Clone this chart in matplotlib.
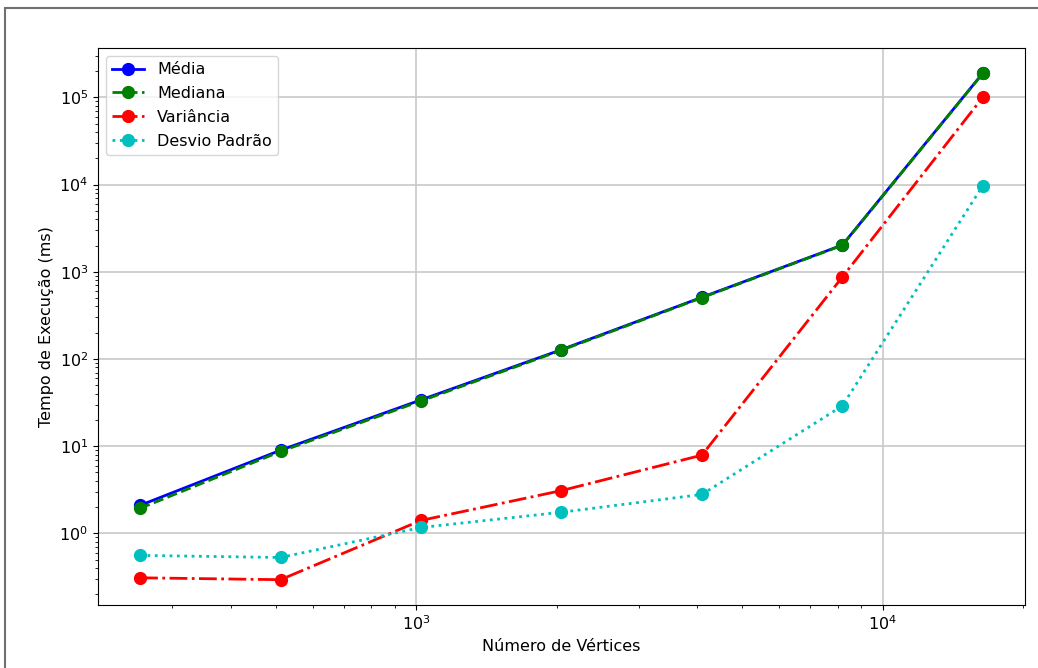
import matplotlib
matplotlib.use('Agg')
import matplotlib.pyplot as plt
from matplotlib.patches import Rectangle

# --- data ---
vertices = [256, 512, 1024, 2048, 4096, 8192, 16384]
media = [2.1, 9.0, 34, 128, 510, 2025, 189000]
mediana = [1.94, 8.7, 33, 126, 505, 2010, 188000]
variancia = [0.31, 0.295, 1.41, 3.1, 7.9, 870, 100000]
desvio = [0.56, 0.53, 1.17, 1.75, 2.8, 29, 9700]

plt.rcParams['font.size'] = 11.5

fig = plt.figure(figsize=(10.38, 6.68), dpi=100)
ax = fig.add_axes([0.0944, 0.0943, 0.893, 0.834])

ax.plot(vertices, media, 'b-o', label='Média', markersize=8.5, linewidth=2)
ax.plot(vertices, mediana, 'g--o', label='Mediana', markersize=8.5, linewidth=2)
ax.plot(vertices, variancia, 'r-.o', label='Variância', markersize=8.5, linewidth=2)
ax.plot(vertices, desvio, 'c:o', label='Desvio Padrão', markersize=8.5, linewidth=2)

ax.set_xscale('log')
ax.set_yscale('log')
ax.set_xlabel('Número de Vértices')
ax.set_ylabel('Tempo de Execução (ms)')
ax.grid(True, which='major', linewidth=1.2, color='#c8c8c8')
ax.legend(loc='upper left', labelspacing=0.55)

# outer frame of the screenshot
fig.patches.append(Rectangle((5 / 1038, -0.01), 1.05, 1 - 8 / 668 + 0.01,
                             transform=fig.transFigure, fill=False,
                             edgecolor='#707070', linewidth=1.5))

fig.savefig('out.png', dpi=100)
